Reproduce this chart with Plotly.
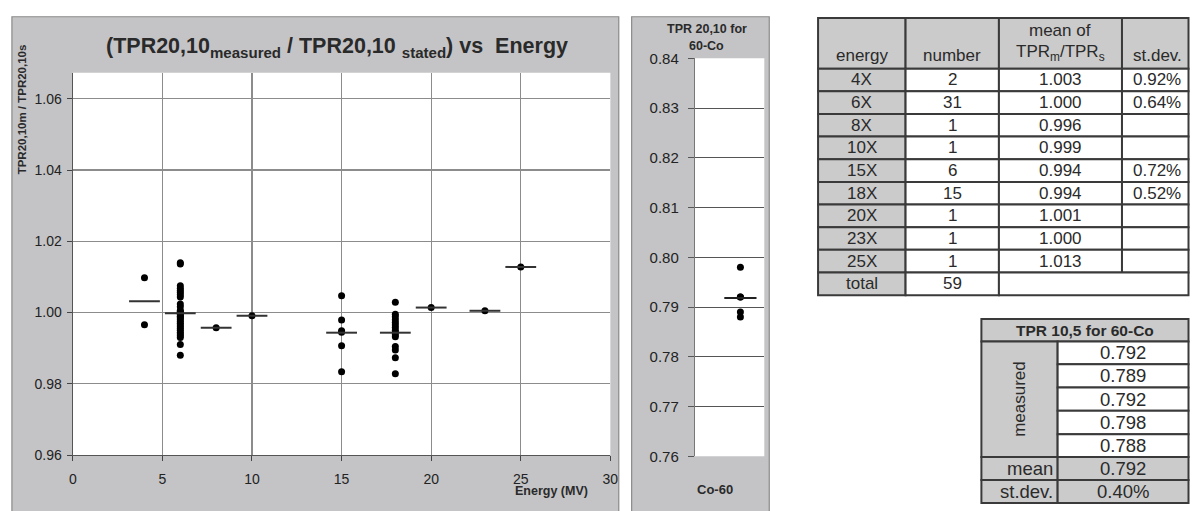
import plotly.graph_objects as go
import numpy as np

W, H = 1197, 511

# ---------------- data ----------------
energies = [4, 6, 8, 10, 15, 18, 20, 23, 25]
tpr_4x = [1.0098, 0.9966]
tpr_6x = [1.0140, 1.0136,
          1.0075, 1.0068, 1.0062, 1.0056, 1.0050, 1.0044,
          1.0024, 1.0016,
          1.0006, 1.0003, 1.0000, 0.9998, 0.9995, 0.9990, 0.9988, 0.9985, 0.9980,
          0.9975, 0.9970, 0.9965, 0.9960, 0.9955, 0.9950, 0.9945, 0.9940,
          0.9935, 0.9930, 0.9910, 0.9880]
tpr_8x = [0.9957]
tpr_10x = [0.9991]
tpr_15x = [1.0047, 0.9979, 0.9949, 0.9945, 0.9907, 0.9834]
tpr_18x = [1.0029, 0.9995, 0.9988, 0.9980, 0.9972, 0.9965, 0.9958, 0.9950,
           0.9944, 0.9938, 0.9932, 0.9905, 0.9895, 0.9873, 0.9828]
tpr_20x = [1.0014]
tpr_23x = [1.0005]
tpr_25x = [1.0128]
groups = [tpr_4x, tpr_6x, tpr_8x, tpr_10x, tpr_15x, tpr_18x, tpr_20x, tpr_23x, tpr_25x]

co60_label = "Co-60"
co60_measured = [0.792, 0.789, 0.792, 0.798, 0.788]

main_yticks = [0.96, 0.98, 1.00, 1.02, 1.04, 1.06]
main_xticks = [0, 5, 10, 15, 20, 25, 30]
co_yticks = [0.76, 0.77, 0.78, 0.79, 0.80, 0.81, 0.82, 0.83, 0.84]

table_energy = ["4X", "6X", "8X", "10X", "15X", "18X", "20X", "23X", "25X"]
table_number = ["2", "31", "1", "1", "6", "15", "1", "1", "1"]
table_mean = ["1.003", "1.000", "0.996", "0.999", "0.994", "0.994", "1.001", "1.000", "1.013"]
table_sd = ["0.92%", "0.64%", "", "", "0.72%", "0.52%", "", "", ""]
table_total = "59"
co60_table_values = ["0.792", "0.789", "0.792", "0.798", "0.788"]
co60_table_mean = "0.792"
co60_table_sd = "0.40%"

# ---------------- helpers ----------------
FONT = "Liberation Sans, Arial, sans-serif"
GRAY_FRAME = "#c4c4c6"
GRAY_CELL = "#cbcbcb"
BORDER = "#3a3a3a"
TXT = "#2a2a2a"

def px(x):
    return x / W

def py(y):
    return 1 - y / H

shapes = []
annotations = []

def rect(x0, y0, x1, y1, fill, line_color=None, lw=0):
    shapes.append(dict(type="rect", xref="paper", yref="paper",
                       x0=px(x0), x1=px(x1), y0=py(y1), y1=py(y0),
                       fillcolor=fill, layer="below",
                       line=dict(color=line_color or fill, width=lw)))

def text(x, y, s, size, anchor="center", bold=False, angle=0, color=TXT):
    annotations.append(dict(xref="paper", yref="paper", x=px(x), y=py(y),
                            text=("<b>%s</b>" % s) if bold else s,
                            showarrow=False, xanchor=anchor, yanchor="middle",
                            textangle=angle,
                            font=dict(family=FONT, size=size, color=color)))

# ---------------- chart frames ----------------
rect(8, 8, 621, 520, GRAY_FRAME, "#8a8a8a", 1.2)
rect(69.5, 66, 612.5, 461.4, "white")
rect(634, 8, 773, 520, GRAY_FRAME, "#8a8a8a", 1.2)
rect(698, 51, 768, 462.7, "white")

fig = go.Figure()

# main scatter points
xs, ys = [], []
for e, g in zip(energies, groups):
    xs += [e] * len(g)
    ys += g
fig.add_trace(go.Scatter(x=xs, y=ys, mode="markers", xaxis="x", yaxis="y",
                         marker=dict(color="black", size=7, symbol="circle"),
                         showlegend=False, hoverinfo="x+y"))
# group means
means = [float(np.mean(g)) for g in groups]
fig.add_trace(go.Scatter(x=energies, y=means, mode="markers", xaxis="x", yaxis="y",
                         marker=dict(symbol="line-ew", size=22,
                                     line=dict(color="#333333", width=2)),
                         showlegend=False))

# Co-60 panel
fig.add_trace(go.Scatter(x=[co60_label] * len(co60_measured), y=co60_measured,
                         mode="markers", xaxis="x2", yaxis="y2",
                         marker=dict(color="black", size=7),
                         showlegend=False))
fig.add_trace(go.Scatter(x=[co60_label], y=[float(np.mean(co60_measured))],
                         mode="markers", xaxis="x2", yaxis="y2",
                         marker=dict(symbol="line-ew", size=23,
                                     line=dict(color="#222222", width=2)),
                         showlegend=False))

axis_font = dict(family=FONT, size=14, color="#222")
fig.update_layout(
    width=W, height=H,
    margin=dict(l=0, r=0, t=0, b=0),
    paper_bgcolor="white",
    plot_bgcolor="rgba(0,0,0,0)",
    showlegend=False,
    xaxis=dict(domain=[px(69.5), px(612.5)], range=[0, 30],
               tickvals=main_xticks, ticks="outside", ticklen=5,
               tickcolor="#444", tickfont=axis_font, ticklabelstandoff=6,
               showgrid=True, gridcolor="#8c8c8c", gridwidth=1.2,
               showline=True, linecolor="#555", linewidth=1.2,
               zeroline=False, anchor="y", fixedrange=True),
    yaxis=dict(domain=[py(461.4), py(66)], range=[0.96, 1.0673],
               tickvals=main_yticks, tickformat=".2f", ticks="outside",
               ticklen=5, tickcolor="#444", tickfont=axis_font,
               ticklabelstandoff=2,
               showgrid=True, gridcolor="#8c8c8c", gridwidth=1.2,
               showline=True, linecolor="#555", linewidth=1.2,
               zeroline=False, anchor="x", fixedrange=True),
    xaxis2=dict(domain=[px(698), px(768)], type="category",
                range=[-0.95, 0.5], showticklabels=False, ticks="",
                showgrid=False, showline=False, zeroline=False,
                anchor="y2", fixedrange=True),
    yaxis2=dict(domain=[py(462.7), py(51)], range=[0.76, 0.84],
                tickvals=co_yticks, tickformat=".2f", ticks="outside",
                ticklen=6, tickcolor="#555", tickfont=dict(family=FONT, size=15, color="#222"),
                ticklabelstandoff=6,
                showgrid=True, gridcolor="#555", gridwidth=1,
                showline=True, linecolor="#777", linewidth=1.2,
                zeroline=False, anchor="x2", fixedrange=True),
)

# chart texts
text(336, 40, "(TPR20,10<sub>measured</sub> / TPR20,10 <sub>stated</sub>) vs&nbsp; Energy", 21.5, bold=True)
text(18, 104, "TPR20,10m / TPR20,10s", 11.5, bold=True, angle=-90)
text(553, 499, "Energy (MV)", 12.5, bold=True)
text(710, 20.5, "TPR 20,10 for", 12.5, bold=True)
text(710, 38.5, "60-Co", 12.5, bold=True)
text(718, 497.5, co60_label, 13, bold=True)

# ---------------- table 1 ----------------
cx = [822.3, 910.7, 1005, 1129.3, 1196.5]
top, hdr_bot, rh = 9.3, 61.7, 23.43
TS = 17
for i in range(4):
    rect(cx[i], top, cx[i + 1], hdr_bot, GRAY_CELL, BORDER, 2)
text((cx[0] + cx[1]) / 2, 48, "energy", TS)
text((cx[1] + cx[2]) / 2, 48, "number", TS)
text((cx[2] + cx[3]) / 2, 22, "mean of", TS)
text((cx[2] + cx[3]) / 2, 45, "TPR<sub>m</sub>/TPR<sub>s</sub>", TS)
text(cx[3] + 9, 48, "st.dev.", TS, anchor="left")
for r in range(len(table_energy)):
    y0 = hdr_bot + r * rh
    y1 = y0 + rh
    ym = (y0 + y1) / 2
    rect(cx[0], y0, cx[1], y1, GRAY_CELL, BORDER, 2)
    rect(cx[1], y0, cx[2], y1, "white", BORDER, 2)
    rect(cx[2], y0, cx[3], y1, "white", BORDER, 2)
    rect(cx[3], y0, cx[4], y1, "white", BORDER, 2)
    text((cx[0] + cx[1]) / 2, ym, table_energy[r], TS)
    text((cx[1] + cx[2]) / 2, ym, table_number[r], TS)
    text((cx[2] + cx[3]) / 2, ym, table_mean[r], TS)
    if table_sd[r]:
        text(cx[3] + 9, ym, table_sd[r], TS, anchor="left")
y0 = hdr_bot + len(table_energy) * rh
y1 = y0 + rh
rect(cx[0], y0, cx[1], y1, GRAY_CELL, BORDER, 2)
rect(cx[1], y0, cx[2], y1, "white", BORDER, 2)
rect(cx[2], y0, cx[4], y1, "white", BORDER, 2)
text((cx[0] + cx[1]) / 2, (y0 + y1) / 2, "total", TS)
text((cx[1] + cx[2]) / 2, (y0 + y1) / 2, table_total, TS)

# ---------------- table 2 ----------------
tx = [987.3, 1064.3, 1196.5]
ry = [320.7, 344, 367.5, 391.5, 415.7, 440, 463.5, 487.3, 511]
TS2 = 18.5
rect(tx[0], ry[0], tx[2], ry[1], GRAY_CELL, BORDER, 2)
text((tx[0] + tx[2]) / 2, (ry[0] + ry[1]) / 2, "TPR 10,5 for 60-Co", 15.5, bold=True)
rect(tx[0], ry[1], tx[1], ry[6], GRAY_CELL, BORDER, 2)
text((tx[0] + tx[1]) / 2, (ry[1] + ry[6]) / 2, "measured", 17, angle=-90)
for i, v in enumerate(co60_table_values):
    rect(tx[1], ry[1 + i], tx[2], ry[2 + i], "white", BORDER, 2)
    text((tx[1] + tx[2]) / 2, (ry[1 + i] + ry[2 + i]) / 2, v, TS2)
for j, (lab, val) in enumerate([("mean", co60_table_mean), ("st.dev.", co60_table_sd)]):
    a, b = ry[6 + j], ry[7 + j]
    rect(tx[0], a, tx[1], b, GRAY_CELL, BORDER, 2)
    rect(tx[1], a, tx[2], b, GRAY_CELL, BORDER, 2)
    text(tx[1] - 3, (a + b) / 2, lab, TS2, anchor="right")
    text((tx[1] + tx[2]) / 2, (a + b) / 2, val, TS2)

fig.update_layout(shapes=shapes, annotations=annotations)
fig.write_html("out.html",
               config={"displayModeBar": False, "staticPlot": True},
               post_script="document.body.style.margin='0';document.body.style.overflow='hidden';")
